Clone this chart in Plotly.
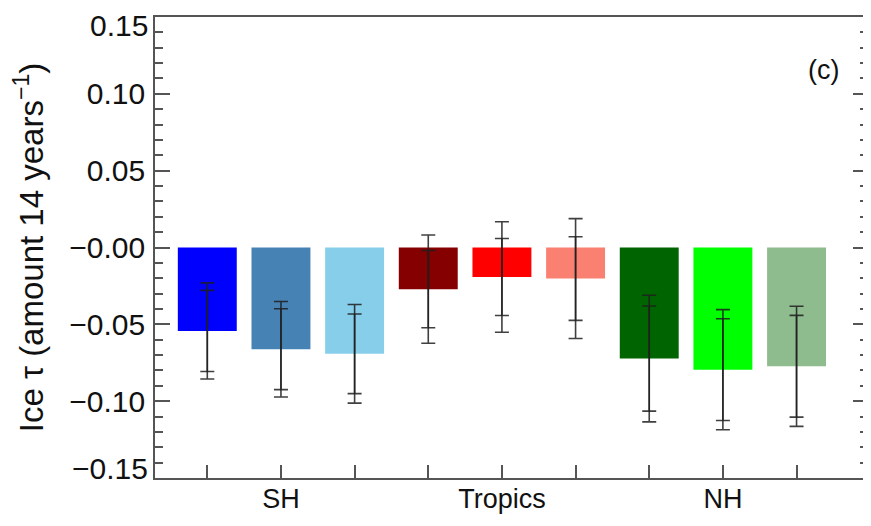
import plotly.graph_objects as go

positions = [1, 2, 3, 4, 5, 6, 7, 8, 9]
values = [-0.0543, -0.0662, -0.0692, -0.0271, -0.0192, -0.0202, -0.0723, -0.0795, -0.0773]
err_outer = [0.0313, 0.0311, 0.0321, 0.0352, 0.0360, 0.0390, 0.0412, 0.0391, 0.0391]
err_inner = [0.0264, 0.0263, 0.0259, 0.0251, 0.0251, 0.0272, 0.0342, 0.0331, 0.0331]
colors = ["#0000FF", "#4682B4", "#87CEEB", "#850000", "#FF0000", "#FA8072",
          "#006400", "#00FF00", "#8FBC8F"]
x_ticktext = ["", "SH", "", "", "Tropics", "", "", "NH", ""]
y_tickvals = [-0.15, -0.10, -0.05, 0.0, 0.05, 0.10, 0.15]
y_ticktext = ["\u22120.15", "\u22120.10", "\u22120.05", "\u22120.00", "0.05", "0.10", "0.15"]
panel_label = "(c)"
y_title = "Ice \u03c4 (amount 14 years<sup>\u22121</sup>)"

FONT = "Liberation Sans, Arial, Helvetica, sans-serif"
AX = "#555555"
EC = "rgba(30,30,30,0.85)"
Y_RANGE = [-0.15, 0.15]

fig = go.Figure()
fig.add_trace(go.Bar(x=positions, y=values, marker=dict(color=colors, line=dict(width=0)),
                     width=0.8, showlegend=False, hoverinfo="skip"))
for err in (err_outer, err_inner):
    fig.add_trace(go.Scatter(
        x=positions, y=values, mode="markers", marker=dict(size=0.1, opacity=0),
        error_y=dict(type="data", array=err, visible=True, color=EC, thickness=1.6, width=7),
        showlegend=False, hoverinfo="skip"))
# invisible trace so the right-hand tick axis is drawn
fig.add_trace(go.Scatter(x=positions[:1], y=values[:1], yaxis="y2", mode="markers",
                         marker=dict(size=0.1, opacity=0), showlegend=False, hoverinfo="skip"))

# end labels (first/last) are nudged inward, like in the reference, as annotations
inner_text = [""] + y_ticktext[1:-1] + [""]
end_annots = []
for val, txt, shift in ((y_tickvals[0], y_ticktext[0], 10), (y_tickvals[-1], y_ticktext[-1], -8)):
    end_annots.append(dict(text=txt, x=0, xref="paper", y=val, yref="y",
                           xanchor="right", yanchor="middle", xshift=-5, yshift=shift,
                           showarrow=False, font=dict(size=30)))

tick_common = dict(ticks="inside", ticklen=15, tickwidth=1.5, tickcolor=AX,
                   minor=dict(dtick=0.01, ticks="inside", ticklen=8, tickwidth=1.5,
                              tickcolor=AX, showgrid=False),
                   showgrid=False, zeroline=False, automargin=False)

# page body has an 8px margin, so the figure is offset by (8, 8) in the window
fig.update_layout(
    width=871, height=526,
    margin=dict(l=147, r=11, t=9, b=56),
    plot_bgcolor="white", paper_bgcolor="white",
    font=dict(family=FONT, size=28, color="#111111"),
    xaxis=dict(range=[0.29, 9.97], tickvals=positions, ticktext=x_ticktext,
               ticks="inside", ticklen=13, tickwidth=1.5, tickcolor=AX,
               showline=True, linecolor=AX, linewidth=1.8, mirror=True,
               showgrid=False, zeroline=False, ticklabelstandoff=-4,
               automargin=False, tickfont=dict(size=27)),
    yaxis=dict(range=Y_RANGE, tickvals=y_tickvals, ticktext=inner_text,
               showline=True, linecolor=AX, linewidth=1.8, mirror=True,
               ticklabelstandoff=2, tickfont=dict(size=30),
               title=dict(text=y_title, font=dict(size=33), standoff=17),
               **tick_common),
    yaxis2=dict(range=Y_RANGE, tickvals=y_tickvals, overlaying="y", side="right",
                showticklabels=False, showline=False, **tick_common),
    annotations=[dict(text=panel_label, x=0.937, y=0.885, xref="paper", yref="paper",
                      showarrow=False, font=dict(size=27), xanchor="center", yanchor="middle")]
                + end_annots,
)

fig.write_html("out.html")
